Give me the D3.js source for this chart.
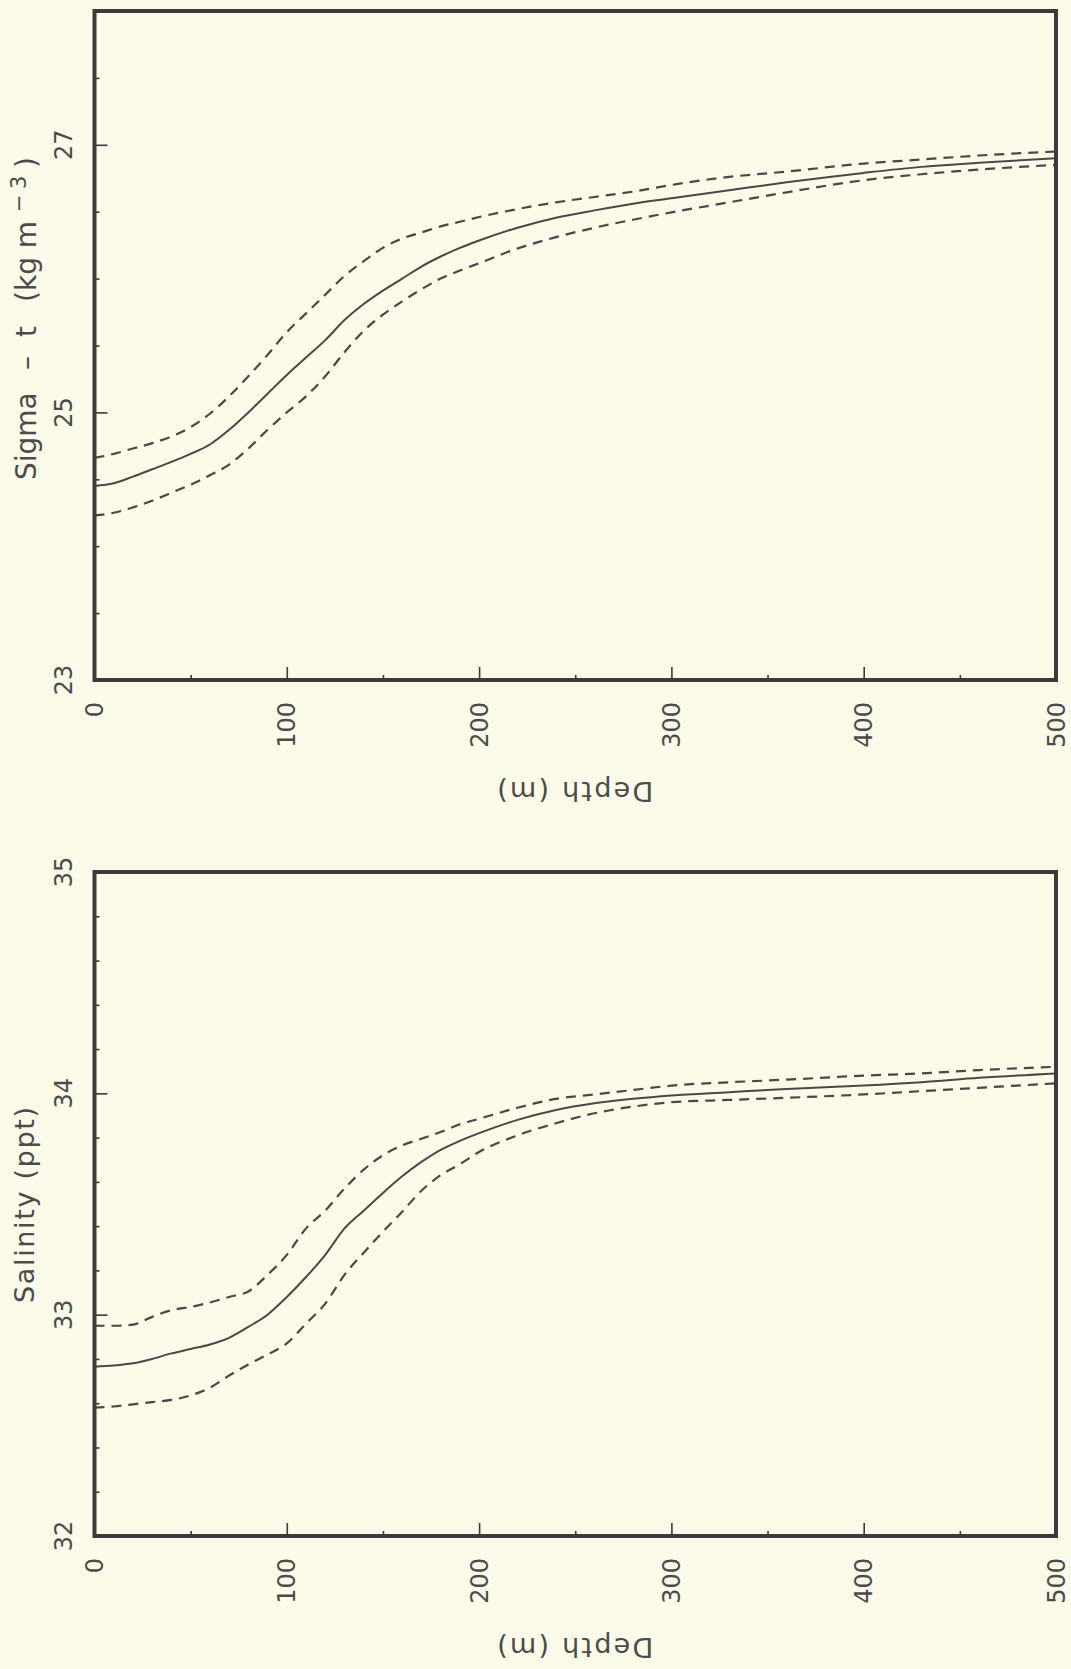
<!DOCTYPE html>
<html><head><meta charset="utf-8">
<script src="https://cdn.jsdelivr.net/npm/d3@7"></script>
<style>html,body{margin:0;padding:0;background:#fcfbe9;} svg{display:block;}</style>
</head><body>
<script>
// ---- data ----
const depths = [0,10,20,30,40,50,60,70,80,90,100,110,120,130,140,150,160,170,180,190,200,220,240,260,280,300,330,360,400,430,460,500];

const sigmaMean  = [24.45,24.47,24.52,24.575,24.63,24.69,24.76,24.87,25.00,25.14,25.28,25.41,25.54,25.69,25.81,25.91,26.00,26.09,26.165,26.23,26.285,26.38,26.455,26.51,26.56,26.60,26.66,26.72,26.79,26.835,26.865,26.90];
const sigmaUpper = [24.66,24.69,24.73,24.77,24.82,24.89,24.99,25.12,25.27,25.43,25.60,25.74,25.88,26.02,26.13,26.23,26.30,26.345,26.39,26.425,26.46,26.52,26.57,26.61,26.65,26.70,26.76,26.80,26.86,26.89,26.92,26.95];
const sigmaLower = [24.23,24.25,24.29,24.34,24.40,24.46,24.53,24.61,24.73,24.87,25.00,25.12,25.27,25.45,25.61,25.73,25.83,25.92,26.00,26.06,26.115,26.225,26.31,26.38,26.44,26.495,26.57,26.645,26.735,26.78,26.815,26.85];

const salMean  = [32.765,32.77,32.78,32.80,32.825,32.845,32.865,32.895,32.945,33.00,33.08,33.17,33.27,33.39,33.47,33.55,33.625,33.69,33.745,33.785,33.82,33.88,33.925,33.955,33.975,33.99,34.005,34.02,34.035,34.05,34.07,34.09];
const salUpper = [32.95,32.95,32.955,32.99,33.02,33.035,33.055,33.08,33.105,33.18,33.27,33.39,33.47,33.57,33.655,33.72,33.765,33.795,33.825,33.86,33.885,33.935,33.975,33.995,34.015,34.035,34.05,34.062,34.08,34.09,34.105,34.12];
const salLower = [32.58,32.585,32.595,32.605,32.615,32.635,32.67,32.725,32.775,32.82,32.87,32.96,33.05,33.18,33.28,33.375,33.465,33.56,33.63,33.68,33.735,33.81,33.865,33.91,33.94,33.96,33.97,33.98,33.995,34.01,34.025,34.045];

const depthTicks = [0,100,200,300,400,500];
const depthMinorTicks = [50,150,250,350,450];
const sigmaTicks = [23,25,27];
const sigmaMinorTicks = [23.5,24,24.5,25.5,26,26.5,27.5];
const salTicks = [32,33,34,35];
const salMinorTicks = [32.2,32.4,32.6,32.8,33.2,33.4,33.6,33.8,34.2,34.4,34.6,34.8];

// ---- drawing ----
const W = 1071, H = 1669;
const FONT = "'DejaVu Sans', sans-serif";
const INK = '#3e3a3a';
const LINE = '#4a4747';
const TXT = '#4d4a4a';

const svg = d3.select('body').append('svg').attr('width', W).attr('height', H);
svg.append('rect').attr('width', W).attr('height', H).attr('fill', '#fcfbe9');

const x = d3.scaleLinear().domain([0, 500]).range([94.5, 1056]);

function panel(cfg) {
  const y = d3.scaleLinear().domain(cfg.domain).range([cfg.bottom, cfg.top]);
  const g = svg.append('g');

  const line = d3.line().x(d => x(d[0])).y(d => y(d[1])).curve(d3.curveMonotoneX);
  const mk = arr => depths.map((d, i) => [d, arr[i]]);

  g.append('path').attr('d', line(mk(cfg.upper))).attr('fill', 'none')
    .attr('stroke', LINE).attr('stroke-width', 2.2).attr('stroke-dasharray', '10,7');
  g.append('path').attr('d', line(mk(cfg.lower))).attr('fill', 'none')
    .attr('stroke', LINE).attr('stroke-width', 2.2).attr('stroke-dasharray', '10,7');
  g.append('path').attr('d', line(mk(cfg.mean))).attr('fill', 'none')
    .attr('stroke', LINE).attr('stroke-width', 2);

  const styleAxis = sel => {
    sel.select('.domain').remove();
    sel.selectAll('line').attr('stroke', INK).attr('stroke-width', 1.6);
  };
  g.append('g').attr('transform', `translate(${x(0)},0)`)
    .call(d3.axisLeft(y).tickValues(cfg.major).tickSize(-13).tickFormat('')).call(styleAxis);
  g.append('g').attr('transform', `translate(${x(0)},0)`)
    .call(d3.axisLeft(y).tickValues(cfg.minor).tickSize(-5).tickFormat('')).call(styleAxis);
  g.append('g').attr('transform', `translate(0,${cfg.bottom})`)
    .call(d3.axisBottom(x).tickValues(depthTicks).tickSize(-13).tickFormat('')).call(styleAxis);
  g.append('g').attr('transform', `translate(0,${cfg.bottom})`)
    .call(d3.axisBottom(x).tickValues(depthMinorTicks).tickSize(-5).tickFormat('')).call(styleAxis);

  g.append('rect').attr('x', x(0)).attr('y', y(cfg.domain[1]))
    .attr('width', x(500) - x(0)).attr('height', y(cfg.domain[0]) - y(cfg.domain[1]))
    .attr('fill', 'none').attr('stroke', INK).attr('stroke-width', 4);

  g.selectAll('.ylab').data(cfg.major).join('text')
    .attr('transform', d => `translate(72,${y(d)}) rotate(-90)`)
    .attr('text-anchor', 'middle').attr('font-family', FONT).attr('font-size', 24)
    .attr('fill', TXT).text(d => d);

  g.selectAll('.xlab').data(depthTicks).join('text')
    .attr('transform', d => `translate(${x(d) + 8.5},${cfg.bottom + 22}) rotate(-90)`)
    .attr('text-anchor', 'end').attr('font-family', FONT).attr('font-size', 24)
    .attr('fill', TXT).text(d => d);

  g.append('text')
    .attr('transform', `translate(${(x(0) + x(500)) / 2},${cfg.bottom + 102}) rotate(180)`)
    .attr('text-anchor', 'middle').attr('font-family', FONT).attr('font-size', 27)
    .attr('fill', TXT).attr('textLength', 156).attr('lengthAdjust', 'spacing')
    .text('Depth (m)');
  return y;
}

panel({domain: [23, 28], bottom: 680, top: 11, major: sigmaTicks, minor: sigmaMinorTicks,
       mean: sigmaMean, upper: sigmaUpper, lower: sigmaLower});
panel({domain: [32, 35], bottom: 1536, top: 872, major: salTicks, minor: salMinorTicks,
       mean: salMean, upper: salUpper, lower: salLower});

// Sigma-t title
const st = svg.append('text').attr('transform', 'translate(36,480) rotate(-90)')
  .attr('font-family', FONT).attr('font-size', 28).attr('fill', TXT);
st.append('tspan').attr('x', 0).text('Sigma');
st.append('tspan').attr('x', 110).text('–');
st.append('tspan').attr('x', 143).text('t');
st.append('tspan').attr('x', 178).text('(kg m');
st.append('tspan').attr('x', 268).attr('dy', -10).attr('font-size', 21).text('−');
st.append('tspan').attr('x', 291).attr('font-size', 21).text('3');
st.append('tspan').attr('x', 312).attr('dy', 10).text(')');

// Salinity title
svg.append('text').attr('transform', 'translate(34,1205) rotate(-90)')
  .attr('text-anchor', 'middle').attr('font-family', FONT).attr('font-size', 27)
  .attr('fill', TXT).attr('textLength', 196).attr('lengthAdjust', 'spacing')
  .text('Salinity (ppt)');
</script>
</body></html>
